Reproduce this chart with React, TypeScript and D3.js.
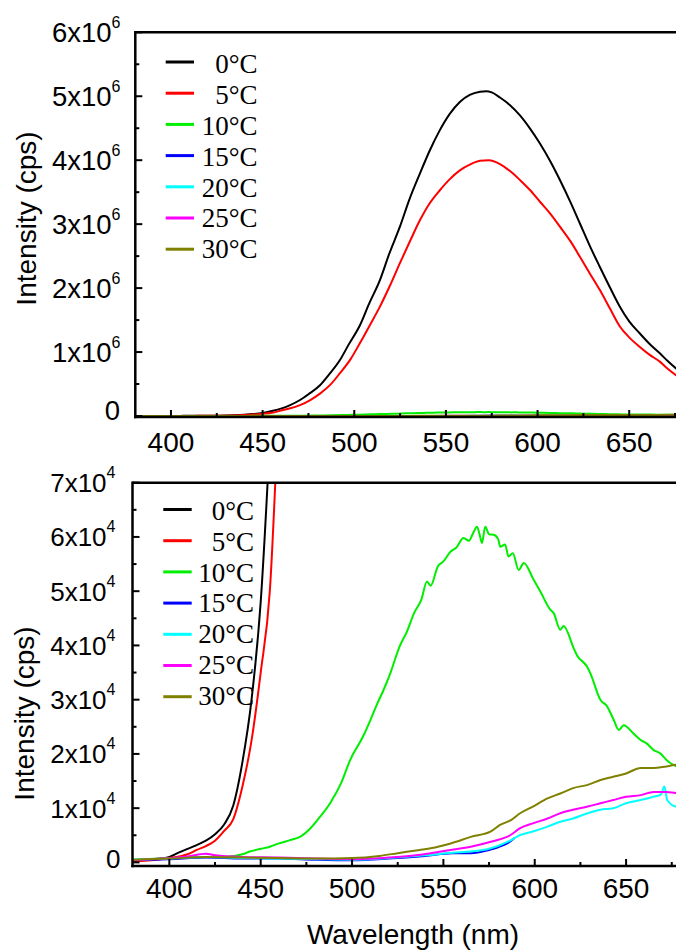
import React from "react";
import * as d3 from "d3";

type Pt = [number, number];

const legendLabels = ["0°C", "5°C", "10°C", "15°C", "20°C", "25°C", "30°C"];
const seriesColors = ["#000000", "#ff0000", "#00ee00", "#0000ff", "#00ffff", "#ff00ff", "#808000"];

// wavelength (nm), intensity (cps)
const t0: Pt[] = [
  [380, 300], [390, 500], [400, 1000], [405, 1800], [410, 2500], [415, 3200], [420, 4000],
  [425, 5200], [430, 7000], [435, 10500], [440, 18500], [445, 30000], [450, 48000], [455, 78000],
  [460, 115000], [465, 170000], [470.4, 250000], [475, 340000], [481.3, 480000], [486, 640000],
  [492.2, 875000], [497, 1120000], [503.1, 1420000], [508, 1750000], [514, 2125000], [519, 2530000],
  [524.9, 2960000], [530, 3380000], [535.8, 3790000], [541, 4140000], [546.7, 4470000], [552, 4720000],
  [557.6, 4910000], [563, 5020000], [568.6, 5070000], [572, 5080000], [575, 5060000], [579.5, 4980000],
  [585, 4860000], [590.4, 4700000], [596, 4490000], [601.3, 4260000], [607, 3980000], [612.2, 3690000],
  [618, 3340000], [623.1, 3010000], [628.5, 2660000], [634, 2330000], [639.5, 2010000], [644.9, 1710000],
  [650, 1480000], [655.8, 1290000], [661, 1130000], [666.7, 980000], [671, 860000], [675.5, 745000],
  [680, 650000],
];

const t5: Pt[] = [
  [380, 200], [390, 400], [400, 800], [410, 1500], [415, 2300], [420, 3000], [425, 4000],
  [430, 5800], [435, 8000], [440, 14000], [445, 22500], [450, 35000], [455, 50000], [460, 85000],
  [465, 120000], [470.4, 170000], [476, 250000], [481.3, 350000], [487, 490000], [492.2, 670000],
  [498, 890000], [503.1, 1140000], [508.5, 1420000], [514, 1710000], [519.5, 2040000], [524.9, 2390000],
  [530.5, 2740000], [535.8, 3060000], [541, 3320000], [546.7, 3530000], [552, 3700000], [557.6, 3840000],
  [563, 3930000], [568.6, 3990000], [573.5, 4000000], [579.5, 3940000], [585, 3830000], [590.4, 3690000],
  [596, 3530000], [601.3, 3350000], [607, 3160000], [612.2, 2960000], [618, 2730000], [623.1, 2490000],
  [628.5, 2230000], [634, 1970000], [639.5, 1680000], [644.9, 1400000], [650, 1230000], [655.8, 1080000],
  [661, 960000], [666.7, 850000], [671, 740000], [675.5, 640000], [680, 560000],
];

const t10: Pt[] = [
  [380, 500], [400, 800], [420, 1000], [430, 1000], [440, 1500], [444, 2000], [450, 2500],
  [455, 2900], [460, 3500], [466, 4100], [472, 4800], [477, 6200], [482, 8200], [488, 10900],
  [494, 14600], [499, 18900], [506, 23200], [510, 26200], [514, 29400], [517, 31600], [521, 34900],
  [526, 39800], [530, 42500], [534, 46000], [538, 48500], [541, 51800], [543, 51000], [547, 54600],
  [550, 55500], [554, 57300], [557, 58000], [561, 59800], [564, 59300], [566, 60500], [568.4, 61900],
  [570, 60200], [571.1, 58900], [572.9, 61900], [575, 60500], [577.5, 60400], [580, 59600],
  [581.1, 58200], [583.8, 58600], [585.6, 56400], [588, 57000], [591.2, 53900], [594, 55200],
  [599.4, 52100], [603, 50000], [608.5, 46600], [610.3, 46000], [614, 42900], [615.8, 43600],
  [621.3, 39500], [623.1, 38200], [628.6, 36100], [630.4, 34900], [635.9, 30000], [639.5, 28800],
  [643.2, 26300], [646, 24400], [648.7, 25300], [654.2, 23700], [657.8, 22600], [661.4, 21900],
  [665.1, 20700], [668.7, 20100], [672.4, 18800], [677.5, 17700], [680, 17500],
];

const t15: Pt[] = [
  [380, 400], [400, 600], [420, 900], [440, 700], [460, 700], [480, 500], [500, 400], [520, 700],
  [540, 1200], [555, 1700], [565, 1700], [575, 2300], [580, 2800], [585, 3500], [589, 4500],
];

const t20: Pt[] = [
  [380, 500], [400, 700], [420, 1000], [440, 800], [460, 700], [480, 600], [500, 500], [520, 800],
  [540, 1300], [555, 1800], [565, 2000], [575, 2500], [587, 4100], [592, 5050], [599, 5700],
  [607, 6600], [614, 7500], [621, 8100], [629, 9060], [636, 9700], [643, 10000], [650, 10900],
  [658, 11500], [665, 12100], [669, 12500], [671, 14000], [672.5, 11500], [677.5, 10300], [680, 10500],
];

const t25: Pt[] = [
  [380, 400], [390, 600], [400, 800], [410, 1100], [420, 1600], [425, 1300], [440, 1000],
  [460, 900], [480, 700], [500, 600], [520, 900], [535, 1300], [543, 1700], [554, 2300], [565, 2900],
  [576, 3800], [587, 5100], [592, 6300], [599, 7200], [607, 8100], [614, 9060], [621, 9700],
  [629, 10300], [636, 10900], [643, 11500], [650, 12100], [658, 12400], [665, 13000], [672, 13000],
  [678, 12800], [680, 12900],
];

const t30: Pt[] = [
  [380, 500], [400, 700], [420, 1000], [440, 900], [460, 800], [480, 700], [500, 800], [515, 1200],
  [525, 1700], [535, 2200], [543, 2600], [554, 3500], [565, 4700], [576, 5700], [581, 6900],
  [587, 7800], [592, 9060], [599, 10300], [607, 11800], [614, 12700], [621, 13700], [629, 14300],
  [636, 15200], [643, 15800], [650, 16400], [658, 17400], [665, 17400], [672, 17700], [678, 18000],
  [680, 18000],
];

const allSeries = [t0, t5, t10, t15, t20, t25, t30];

const xMajorTicks = [400, 450, 500, 550, 600, 650];
const xMinorTicks = [425, 475, 525, 575, 625, 675];
const topYTicks = [0, 1e6, 2e6, 3e6, 4e6, 5e6, 6e6];
const botYTicks = [0, 1e4, 2e4, 3e4, 4e4, 5e4, 6e4, 7e4];

type Cfg = {
  id: string;
  xr: [number, number];
  yMax: number;
  yr: [number, number];
  axisX: number;
  axisY: number;
  topY: number;
  yTicks: number[];
  labelX: number;
  zeroLabelX: number;
  zeroDy: number;
  labelDy: number;
  yFont: number;
  xLabelBase: number;
  titleX: number;
  titleY: number;
  legX1: number;
  legX2: number;
  legLineY0: number;
  legTextX: number;
  legTextY0: number;
};

const topCfg: Cfg = {
  id: "top",
  xr: [134.3, 134.3 + 300 * 1.833],
  yMax: 6e6,
  yr: [416, 32.3],
  axisX: 135.3,
  axisY: 417,
  topY: 32.3,
  yTicks: topYTicks,
  labelX: 120.5,
  zeroLabelX: 120,
  zeroDy: 3.5,
  labelDy: 10,
  yFont: 27.5,
  xLabelBase: 451.7,
  titleX: 36,
  titleY: 218.5,
  legX1: 165.7,
  legX2: 194,
  legLineY0: 62,
  legTextX: 257.5,
  legTextY0: 73.3,
};

const botCfg: Cfg = {
  id: "bot",
  xr: [132.8, 132.8 + 300 * 1.827],
  yMax: 7e4,
  yr: [862.4, 482.7],
  axisX: 132.5,
  axisY: 866,
  topY: 482.7,
  yTicks: botYTicks,
  labelX: 115.5,
  zeroLabelX: 120.5,
  zeroDy: 6,
  labelDy: 9.5,
  yFont: 26,
  xLabelBase: 898.3,
  titleX: 33.5,
  titleY: 713.5,
  legX1: 163.3,
  legX2: 191.7,
  legLineY0: 509.5,
  legTextX: 254,
  legTextY0: 520,
};

const SANS = "'Liberation Sans', Arial, sans-serif";
const SERIF = "'Liberation Serif', 'Times New Roman', serif";

function Panel({ c }: { c: Cfg }) {
  const x = d3.scaleLinear().domain([380, 680]).range(c.xr);
  const y = d3.scaleLinear().domain([0, c.yMax]).range(c.yr);
  const line = d3
    .line<Pt>()
    .x((d) => x(d[0]))
    .y((d) => y(d[1]))
    .curve(d3.curveMonotoneX);
  const step = c.yTicks[1];
  const yMinor = c.yTicks.slice(0, -1).map((v) => v + step / 2);
  const clipId = `clip-${c.id}`;
  return (
    <g>
      <defs>
        <clipPath id={clipId}>
          <rect x={c.axisX} y={c.topY} width={676 - c.axisX + 10} height={c.axisY - c.topY + 1} />
        </clipPath>
      </defs>
      <g clipPath={`url(#${clipId})`}>
        {allSeries.map((s, i) => (
          <path key={i} d={line(s) || ""} fill="none" stroke={seriesColors[i]} strokeWidth={2} strokeLinejoin="round" />
        ))}
      </g>
      {/* frame */}
      <line x1={c.axisX} x2={700} y1={c.topY} y2={c.topY} stroke="#000" strokeWidth={2.5} />
      <line x1={c.axisX} x2={c.axisX} y1={c.topY - 1.2} y2={c.axisY + 1.2} stroke="#000" strokeWidth={2.5} />
      <line x1={c.axisX - 1.2} x2={700} y1={c.axisY} y2={c.axisY} stroke="#000" strokeWidth={2.5} />
      {/* x ticks */}
      {xMajorTicks.map((v) => (
        <g key={`xm${v}`}>
          <line x1={x(v)} x2={x(v)} y1={c.axisY} y2={c.axisY - 7} stroke="#000" strokeWidth={2} />
          <text x={x(v)} y={c.xLabelBase} textAnchor="middle" fontFamily={SANS} fontSize={28} fill="#000">
            {v}
          </text>
        </g>
      ))}
      {xMinorTicks.map((v) => (
        <line key={`xn${v}`} x1={x(v)} x2={x(v)} y1={c.axisY} y2={c.axisY - 4} stroke="#000" strokeWidth={2} />
      ))}
      {/* y ticks */}
      {c.yTicks.map((v) => {
        const e = v === 0 ? 0 : Math.floor(Math.log10(v));
        const m = v === 0 ? 0 : Math.round(v / Math.pow(10, e));
        return (
          <g key={`ym${v}`}>
            <line x1={c.axisX} x2={c.axisX + 7} y1={y(v)} y2={y(v)} stroke="#000" strokeWidth={2} />
            {v === 0 ? (
              <text x={c.zeroLabelX} y={y(v) + c.zeroDy} textAnchor="end" fontFamily={SANS} fontSize={c.yFont} fill="#000">
                0
              </text>
            ) : (
              <text x={c.labelX} y={y(v) + c.labelDy} textAnchor="end" fontFamily={SANS} fontSize={c.yFont} fill="#000">
                {`${m}x10`}
                <tspan dy={-14} fontSize={16}>
                  {e}
                </tspan>
              </text>
            )}
          </g>
        );
      })}
      {yMinor.map((v) => (
        <line key={`yn${v}`} x1={c.axisX} x2={c.axisX + 4} y1={y(v)} y2={y(v)} stroke="#000" strokeWidth={2} />
      ))}
      {/* y title */}
      <text
        transform={`translate(${c.titleX},${c.titleY}) rotate(-90)`}
        textAnchor="middle"
        fontFamily={SANS}
        fontSize={28}
        fill="#000"
      >
        Intensity (cps)
      </text>
      {/* legend */}
      {legendLabels.map((lab, i) => (
        <g key={lab}>
          <line
            x1={c.legX1}
            x2={c.legX2}
            y1={c.legLineY0 + i * 31.2}
            y2={c.legLineY0 + i * 31.2}
            stroke={seriesColors[i]}
            strokeWidth={3}
          />
          <text x={c.legTextX} y={c.legTextY0 + i * 30.8} textAnchor="end" fontFamily={SERIF} fontSize={27} fill="#000">
            {lab}
          </text>
        </g>
      ))}
    </g>
  );
}

export default function App() {
  return (
    <svg
      width={676}
      height={952}
      viewBox="0 0 676 952"
      style={{ position: "absolute", left: 0, top: 0, background: "#fff" }}
    >
      <rect x={0} y={0} width={676} height={952} fill="#fff" />
      <Panel c={topCfg} />
      <Panel c={botCfg} />
      <text x={413} y={944} textAnchor="middle" fontFamily={SANS} fontSize={28} fill="#000">
        Wavelength (nm)
      </text>
    </svg>
  );
}
